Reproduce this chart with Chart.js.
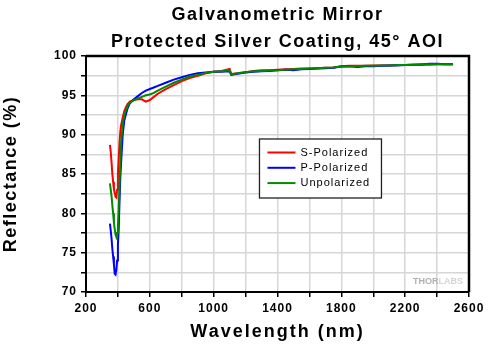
<!DOCTYPE html>
<html>
<head>
<meta charset="utf-8">
<script src="https://cdn.jsdelivr.net/npm/chart.js@4"></script>
<style>
  html, body { margin: 0; padding: 0; background: #fff; }
  canvas { display: block; }
</style>
</head>
<body>
<canvas id="myChart" width="496" height="345"></canvas>
<script>
var titleLines = ['Galvanometric Mirror', 'Protected Silver Coating, 45\u00b0 AOI'];
var xTitle = 'Wavelength (nm)';
var yTitle = 'Reflectance (%)';
var seriesNames = ['S-Polarized', 'P-Polarized', 'Unpolarized'];
var seriesColors = ['#ff0000', '#0000ff', '#008a00'];

var wavelength = [350, 355, 360, 365, 370, 375, 380, 385, 390, 395, 400, 405, 410, 415, 420,
	430, 440, 450, 460, 475, 500, 525, 550, 575, 600, 625, 650, 700, 750, 800, 850, 900, 950,
	1000, 1050, 1100, 1110, 1150, 1200, 1250, 1300, 1350, 1400, 1450, 1500, 1550, 1600, 1650,
	1700, 1750, 1800, 1850, 1900, 1950, 2000, 2050, 2100, 2150, 2200, 2250, 2300, 2350, 2400,
	2450, 2500];

var sPol = [88.7, 87.8, 86.5, 85.0, 84.0, 83.0, 82.6, 82.1, 82.0, 83.0, 85.0, 87.0, 89.0, 90.4, 91.2,
	92.2, 93.0, 93.5, 93.9, 94.2, 94.4, 94.5, 94.5, 94.2, 94.4, 94.8, 95.2, 95.8, 96.3, 96.8, 97.2, 97.5, 97.8,
	98.0, 98.1, 98.35, 97.7, 97.8, 97.95, 98.1, 98.2, 98.2, 98.25, 98.3, 98.35, 98.4, 98.4, 98.45,
	98.5, 98.55, 98.7, 98.75, 98.75, 98.75, 98.8, 98.8, 98.8, 98.85, 98.85, 98.9, 98.95, 98.9, 98.95,
	98.95, 98.95];

var pPol = [78.7, 77.8, 76.8, 75.5, 74.5, 73.5, 72.3, 72.2, 72.8, 74.0, 76.0, 78.0, 81.5, 84.5, 86.5,
	90.0, 91.8, 92.6, 93.3, 94.0, 94.5, 94.9, 95.3, 95.6, 95.8, 96.0, 96.2, 96.6, 97.0, 97.3, 97.6, 97.8, 97.9,
	98.0, 98.0, 98.05, 97.6, 97.75, 97.9, 98.0, 98.05, 98.1, 98.2, 98.25, 98.2, 98.3, 98.35, 98.4,
	98.45, 98.5, 98.65, 98.7, 98.6, 98.7, 98.7, 98.75, 98.8, 98.8, 98.85, 98.9, 98.9, 99.0, 99.0,
	98.95, 98.95];

var unPol = [83.8, 83.0, 82.2, 81.0, 80.0, 78.8, 78.0, 77.3, 77.0, 77.5, 78.5, 80.5, 83.5, 86.5, 89.0,
	91.3, 92.5, 93.1, 93.6, 94.1, 94.4, 94.6, 94.8, 95.0, 95.1, 95.3, 95.6, 96.1, 96.6, 97.0, 97.4, 97.6, 97.85,
	98.0, 98.05, 98.2, 97.65, 97.8, 97.95, 98.05, 98.1, 98.15, 98.2, 98.25, 98.3, 98.35, 98.4, 98.45,
	98.5, 98.55, 98.65, 98.7, 98.7, 98.75, 98.75, 98.8, 98.8, 98.85, 98.85, 98.9, 98.9, 98.95, 98.95,
	98.95, 98.95];

var seriesValues = [sPol, pPol, unPol];
var fontFamily = '"Liberation Sans", Arial, sans-serif';

function toPoints(values) {
	return wavelength.map(function (w, i) { return { x: w, y: values[i] }; });
}

function spaced(obj, name, spacing) {
	if (!obj || obj['_sp_' + name]) return;
	var orig = obj[name];
	obj[name] = function () {
		var c = this.ctx, old = c.letterSpacing;
		c.letterSpacing = spacing;
		var r = orig.apply(this, arguments);
		c.letterSpacing = old;
		return r;
	};
	obj['_sp_' + name] = true;
}

// excel-like spread of the lettering
var spacingPlugin = {
	id: 'spacing',
	beforeUpdate: function (chart) { chart.ctx.letterSpacing = '1px'; },
	beforeDraw: function (chart) {
		chart.ctx.letterSpacing = '1px';
		spaced(chart.scales.x, 'drawTitle', '2px');
		spaced(chart.scales.y, 'drawTitle', '1.5px');
		spaced(chart.titleBlock, 'draw', '1.5px');
	}
};

// legend box inside the plot, frame and watermark
var extrasPlugin = {
	id: 'extras',
	afterDraw: function (chart) {
		var ctx = chart.ctx, a = chart.chartArea;
		ctx.save();
		ctx.strokeStyle = '#000';
		ctx.lineWidth = 2.5;
		ctx.beginPath();
		ctx.moveTo(a.left, a.top);
		ctx.lineTo(a.right, a.top);
		ctx.lineTo(a.right, a.bottom);
		ctx.stroke();

		// watermark
		ctx.font = 'bold 9px ' + fontFamily;
		ctx.letterSpacing = '0px';
		ctx.textBaseline = 'alphabetic';
		ctx.textAlign = 'left';
		var w1 = ctx.measureText('THOR').width, w2 = ctx.measureText('LABS').width;
		var wx = a.right - 6 - w1 - w2;
		ctx.fillStyle = '#b0b0b0';
		ctx.fillText('THOR', wx, a.bottom - 8);
		ctx.fillStyle = '#d4d4d4';
		ctx.fillText('LABS', wx + w1, a.bottom - 8);

		// legend
		var lx = chart.scales.x.getPixelForValue(1287), ly = chart.scales.y.getPixelForValue(89.45);
		var lw = 122, lh = 59;
		ctx.fillStyle = '#fff';
		ctx.fillRect(lx, ly, lw, lh);
		ctx.strokeStyle = '#222';
		ctx.lineWidth = 1.3;
		ctx.strokeRect(lx, ly, lw, lh);
		ctx.font = '11px ' + fontFamily;
		ctx.letterSpacing = '1px';
		ctx.textBaseline = 'middle';
		chart.data.datasets.forEach(function (ds, i) {
			var yy = ly + 13.5 + i * 15.3;
			ctx.strokeStyle = ds.borderColor;
			ctx.lineWidth = 2;
			ctx.beginPath();
			ctx.moveTo(lx + 8, yy);
			ctx.lineTo(lx + 36, yy);
			ctx.stroke();
			ctx.fillStyle = '#000';
			ctx.fillText(ds.label, lx + 41, yy);
		});
		ctx.restore();
	}
};

var ctx = document.getElementById('myChart').getContext('2d');
var myLineChart = new Chart(ctx, {
	type: 'line',
	data: {
		datasets: seriesNames.map(function (name, i) {
			return {
				label: name,
				data: toPoints(seriesValues[i]),
				borderColor: seriesColors[i],
				backgroundColor: 'transparent',
				borderWidth: 2,
				pointRadius: 0,
				tension: 0,
				order: 2 - i
			};
		})
	},
	options: {
		responsive: false,
		animation: false,
		layout: { padding: { left: 0, right: 27, top: 0, bottom: 0 } },
		plugins: {
			legend: { display: false },
			tooltip: { enabled: false },
			title: {
				display: true,
				fullSize: false,
				text: titleLines,
				color: '#000',
				font: { family: fontFamily, size: 18, weight: 'bold', lineHeight: 1.5 },
				padding: { top: 2, bottom: 0 }
			}
		},
		scales: {
			x: {
				type: 'linear',
				min: 200,
				max: 2600,
				afterFit: function (s) { s.height = 53; },
				border: { color: '#000', width: 2 },
				grid: { color: '#d6d6d6', lineWidth: 1.5, tickColor: '#000', tickLength: 5, tickWidth: 1.5 },
				ticks: {
					stepSize: 200,
					autoSkip: false,
					maxRotation: 0,
					padding: 4,
					color: '#000',
					font: { family: fontFamily, size: 12, weight: 'bold' },
					callback: function (v) { return (v - 200) % 400 === 0 ? String(v) : ''; }
				},
				title: {
					display: true,
					text: xTitle,
					color: '#000',
					font: { family: fontFamily, size: 18, weight: 'bold' },
					padding: { top: 0, bottom: 2 }
				}
			},
			y: {
				min: 70,
				max: 100,
				afterFit: function (s) { s.width = 86; },
				border: { color: '#000', width: 2 },
				grid: { color: '#d6d6d6', lineWidth: 1.5, tickColor: '#000', tickLength: 5, tickWidth: 1.5 },
				ticks: {
					stepSize: 2.5,
					autoSkip: false,
					padding: 4,
					color: '#000',
					font: { family: fontFamily, size: 12, weight: 'bold' },
					callback: function (v) { return v % 5 === 0 ? String(v) : ''; }
				},
				title: {
					display: true,
					text: yTitle,
					color: '#000',
					font: { family: fontFamily, size: 18, weight: 'bold' },
					padding: { top: 0, bottom: 0 }
				}
			}
		}
	},
	plugins: [spacingPlugin, extrasPlugin]
});
</script>
</body>
</html>
